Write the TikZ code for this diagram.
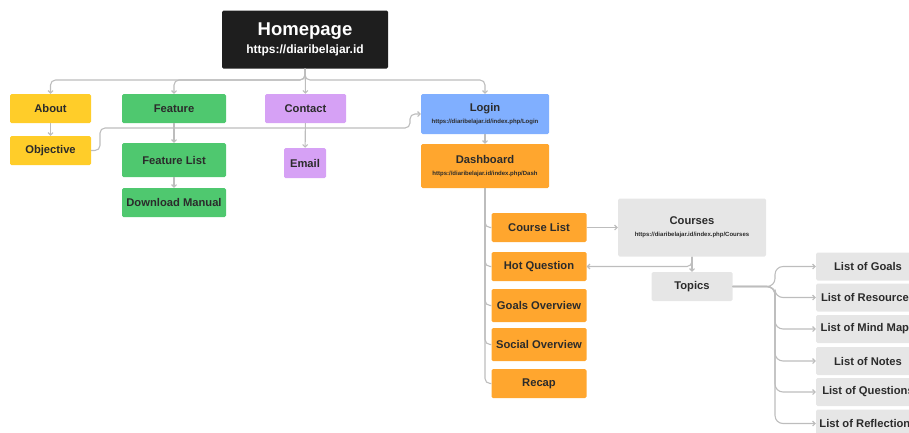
\documentclass[tikz,border=0pt]{standalone}
\usepackage{fontspec}
\setmainfont{Liberation Sans}
\usetikzlibrary{arrows.meta}
\definecolor{hpblack}{HTML}{1E1E1E}
\definecolor{ylw}{HTML}{FFCD29}
\definecolor{grn}{HTML}{4FC86F}
\definecolor{prp}{HTML}{D6A1F5}
\definecolor{blu}{HTML}{80AFFF}
\definecolor{org}{HTML}{FFA62E}
\definecolor{gry}{HTML}{E6E6E6}
\definecolor{txt}{HTML}{2B2B2B}
\definecolor{lngray}{HTML}{BDBDBD}
\newcommand{\sublink}[1]{{\fontsize{6}{7}\selectfont #1}}

\begin{document}
\begin{tikzpicture}[x=1pt, y=-1pt,
    bx/.style={rounded corners=1.5pt, inner sep=0pt, align=center, text=txt, font=\bfseries\fontsize{11.2}{13}\selectfont},
    ln/.style={draw=lngray, line width=1.1pt, rounded corners=5pt},
    ar/.style={ln, -{Straight Barb[length=2.5pt,width=5pt]}}]
    \useasboundingbox (0, 0) rectangle (909, 432);
    \node [bx, fill=hpblack, text=white, minimum width=166, minimum height=58] (a) at (305, 39.5) {\fontsize{18.5}{20}\selectfont Homepage\\[5pt]{\fontsize{12}{14}\selectfont https://diaribelajar.id}};
    \node [bx, fill=ylw, minimum width=81, minimum height=29] (b) at (50.5, 108.5) {About};
    \node [bx, fill=ylw, minimum width=81, minimum height=29] (c) at (50.5, 150.5) {Objective};
    \node [bx, fill=grn, minimum width=104, minimum height=29] (d) at (174, 108.5) {Feature};
    \node [bx, fill=grn, minimum width=104, minimum height=34] (e) at (174, 160) {Feature List};
    \node [bx, fill=grn, minimum width=104, minimum height=29] (f) at (174, 202.5) {Download Manual};
    \node [bx, fill=prp, minimum width=81, minimum height=29] (g) at (305.5, 108.5) {Contact};
    \node [bx, fill=prp, minimum width=42, minimum height=30] (h) at (305, 163) {Email};
    \node [bx, fill=blu, minimum width=128, minimum height=40] (i) at (485, 114) {Login\\[-1pt]\sublink{https://diaribelajar.id/index.php/Login}};
    \node [bx, fill=org, minimum width=128, minimum height=44] (j) at (485, 166) {Dashboard\\[-1pt]\sublink{https://diaribelajar.id/index.php/Dash}};
    \node [bx, fill=org, minimum width=95, minimum height=29] (k) at (539, 227.5) {Course List};
    \node [bx, fill=org, minimum width=95, minimum height=29] (l) at (539, 266.5) {Hot Question};
    \node [bx, fill=org, minimum width=95, minimum height=33] (m) at (539, 305.5) {Goals Overview};
    \node [bx, fill=org, minimum width=95, minimum height=33] (n) at (539, 344.5) {Social Overview};
    \node [bx, fill=org, minimum width=95, minimum height=29] (o) at (539, 383.5) {Recap};
    \node [bx, fill=gry, minimum width=148, minimum height=58] (p) at (692, 227.5) {Courses\\[-1pt]\sublink{https://diaribelajar.id/index.php/Courses}};
    \node [bx, fill=gry, minimum width=81, minimum height=29] (q) at (692, 286.5) {Topics};
    \node [bx, fill=gry, minimum width=104, minimum height=28] (r) at (868, 266.5) {List of Goals};
    \node [bx, fill=gry, minimum width=104, minimum height=28] (s) at (868, 297.5) {List of Resources};
    \node [bx, fill=gry, minimum width=104, minimum height=28] (t) at (868, 329) {List of Mind Maps};
    \node [bx, fill=gry, minimum width=104, minimum height=28] (u) at (868, 361) {List of Notes};
    \node [bx, fill=gry, minimum width=104, minimum height=28] (v) at (868, 392) {List of Questions};
    \node [bx, fill=gry, minimum width=104, minimum height=28] (w) at (868, 423.5) {List of Reflections};
    \coordinate (a1) at (305, 80);
    \coordinate (c1) at (100, 150.5);
    \coordinate (c2) at (410, 128);
    \coordinate (q1) at (775, 286.5);
    \draw [ar] (a) -- (a1) -| (b);
    \draw [ar] (a) -- (a1) -| (d);
    \draw [ar] (a) -- (g);
    \draw [ar] (a) -- (a1) -| (i);
    \draw [ar] (b) -- (c);
    \draw [ar] (d) -- (e);
    \draw [ar] (e) -- (f);
    \draw [ar] (g) -- (h);
    \draw [ar] (i) -- (j);
    \draw [ar] (c) -- (c1) |- (c2) |- (i);
    \draw [ln] (j) |- (k);
    \draw [ln] (j) |- (l);
    \draw [ln] (j) |- (m);
    \draw [ln] (j) |- (n);
    \draw [ln] (j) |- (o);
    \draw [ar] (k) -- (p);
    \draw [ar] (p) |- (l);
    \draw [ar] (p) -- (q);
    \draw [ar, rounded corners=8pt] (q) -- (q1) |- (r);
    \draw [ar, rounded corners=8pt] (q) -- (q1) |- (s);
    \draw [ar, rounded corners=8pt] (q) -- (q1) |- (t);
    \draw [ar, rounded corners=8pt] (q) -- (q1) |- (u);
    \draw [ar, rounded corners=8pt] (q) -- (q1) |- (v);
    \draw [ar, rounded corners=8pt] (q) -- (q1) |- (w);
\end{tikzpicture}
\end{document}
